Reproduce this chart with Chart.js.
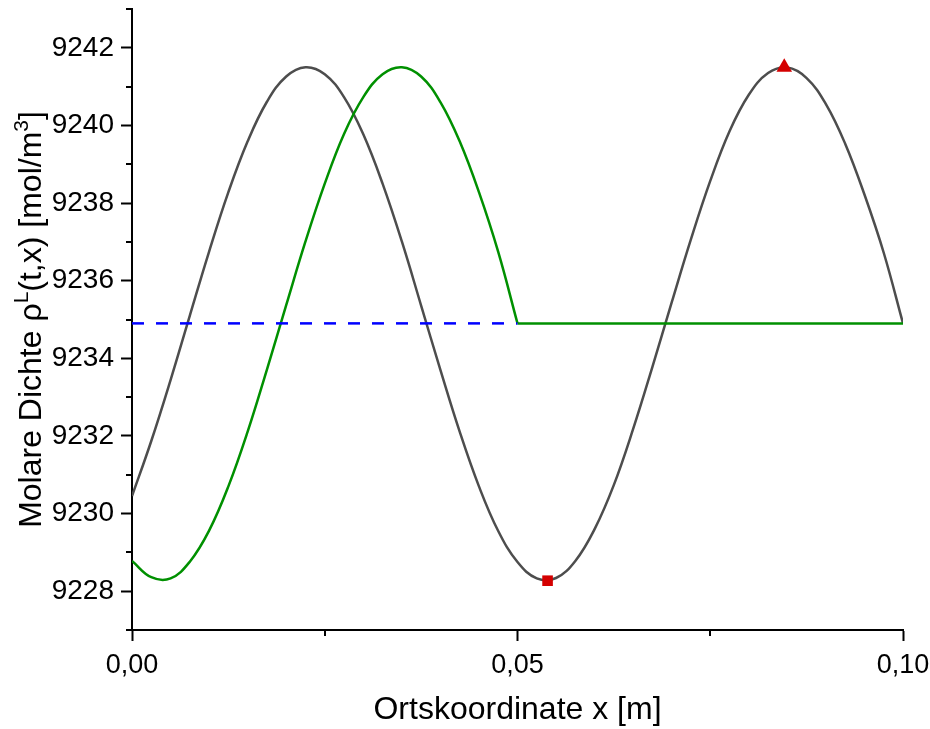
<!DOCTYPE html>
<html>
<head>
<meta charset="utf-8">
<script src="https://cdn.jsdelivr.net/npm/chart.js@4.4.1/dist/chart.umd.min.js"></script>
<style>
  body { margin: 0; background: #fff; }
  #wrap { width: 930px; height: 729px; }
</style>
</head>
<body>
<div id="wrap"><canvas id="canvas"></canvas></div>
<script>
/* daten */

const xGrau = [0, 0.0025, 0.005, 0.0075, 0.01, 0.0125, 0.015, 0.0175, 0.02, 0.0225,
    0.025, 0.0275, 0.03, 0.0325, 0.035, 0.0375, 0.04, 0.0425, 0.045, 0.0475,
    0.05, 0.0525, 0.055, 0.0575, 0.06, 0.0625, 0.065, 0.0675, 0.07, 0.0725,
    0.075, 0.0775, 0.08, 0.0825, 0.085, 0.0875, 0.09, 0.0925, 0.095, 0.0975, 0.1];
const rhoGrau = [9230.45, 9231.87, 9233.44, 9235.10, 9236.75, 9238.28, 9239.59, 9240.61, 9241.26, 9241.50,
    9241.32, 9240.73, 9239.77, 9238.50, 9237.01, 9235.36, 9233.70, 9232.11, 9230.70, 9229.55,
    9228.75, 9228.33, 9228.34, 9228.78, 9229.60, 9230.74, 9232.18, 9233.78, 9235.44, 9237.07,
    9238.57, 9239.85, 9240.79, 9241.35, 9241.49, 9241.22, 9240.55, 9239.53, 9238.22, 9236.72, 9234.90];

const xGruen = [0, 0.0025, 0.005, 0.0075, 0.01, 0.0125, 0.015, 0.0175, 0.02, 0.0225,
    0.025, 0.0275, 0.03, 0.0325, 0.035, 0.0375, 0.04, 0.0425, 0.045, 0.0475, 0.05];
const rhoGruen = [9228.78, 9228.36, 9228.33, 9228.76, 9229.56, 9230.70, 9232.11, 9233.71, 9235.37, 9237.01,
    9238.50, 9239.78, 9240.73, 9241.32, 9241.50, 9241.26, 9240.60, 9239.59, 9238.28, 9236.74, 9234.90];

const xGruenFlach = [0.05, 0.1];
const rhoGruenFlach = [9234.90, 9234.90];

const xBlau = [0, 0.05];
const rhoBlau = [9234.90, 9234.90];

const minimum = [0.0539, 9228.27];
const maximum = [0.0846, 9241.50];

const xTicks = [0, 0.05, 0.1];
const yTicks = [9228, 9230, 9232, 9234, 9236, 9238, 9240, 9242];

function punkte(xs, ys) {
    return xs.map(function(x, i) { return { x: x, y: ys[i] }; });
}

function istMajorX(v) { return xTicks.some(function(t) { return Math.abs(t - v) < 1e-6; }); }
function istMajorY(v) { return yTicks.some(function(t) { return Math.abs(t - v) < 1e-6; }); }

const schrift = "'Liberation Sans', Arial, sans-serif";

/* nebenstriche + y-titel */

const extras = {
    id: 'extras',
    afterDraw(chart) {
        const c = chart.ctx;
        const xs = chart.scales.x, ys = chart.scales.y;
        c.save();
        c.strokeStyle = '#000';
        c.lineWidth = 2;
        ys.ticks.forEach(function(t) {
            if (istMajorY(t.value)) return;
            const py = Math.round(ys.getPixelForValue(t.value));
            c.beginPath();
            c.moveTo(xs.left, py);
            c.lineTo(xs.left - 6, py);
            c.stroke();
        });
        xs.ticks.forEach(function(t) {
            if (istMajorX(t.value)) return;
            const px = Math.round(xs.getPixelForValue(t.value));
            c.beginPath();
            c.moveTo(px, ys.bottom);
            c.lineTo(px, ys.bottom + 6);
            c.stroke();
        });

        // y-titel mit hochgestellten zeichen
        const teile = [
            { t: 'Molare Dichte \u03C1', sup: false },
            { t: 'L', sup: true },
            { t: '(t,x) [mol/m', sup: false },
            { t: '3', sup: true },
            { t: ']', sup: false }
        ];
        const gr = 32, kl = 21;
        let breite = 0;
        teile.forEach(function(p) {
            c.font = (p.sup ? kl : gr) + 'px ' + schrift;
            p.w = c.measureText(p.t).width;
            breite += p.w;
        });
        c.translate(41, (ys.top + ys.bottom) / 2);
        c.rotate(-Math.PI / 2);
        c.fillStyle = '#000';
        c.textBaseline = 'alphabetic';
        c.textAlign = 'left';
        let x = -breite / 2;
        teile.forEach(function(p) {
            c.font = (p.sup ? kl : gr) + 'px ' + schrift;
            c.fillText(p.t, x, p.sup ? -13 : 0);
            x += p.w;
        });
        c.restore();
    }
};

const ctx = document.getElementById('canvas');

var chart1 = new Chart(ctx, {
    type: 'line',
    data: {
        datasets: [
            {
                data: punkte([minimum[0]], [minimum[1]]),
                showLine: false,
                pointStyle: 'rect',
                pointRadius: 7.5,
                backgroundColor: '#d40000',
                borderColor: '#d40000',
                borderWidth: 0,
                order: 0
            },
            {
                data: punkte([maximum[0]], [maximum[1]]),
                showLine: false,
                pointStyle: 'triangle',
                pointRadius: 9,
                backgroundColor: '#d40000',
                borderColor: '#d40000',
                borderWidth: 0,
                order: 0
            },
            {
                data: punkte(xBlau, rhoBlau),
                borderColor: '#0000ff',
                borderWidth: 2.5,
                borderDash: [12, 12],
                pointRadius: 0,
                order: 1
            },
            {
                data: punkte(xGruen, rhoGruen),
                borderColor: '#009000',
                borderWidth: 2.5,
                pointRadius: 0,
                tension: 0.4,
                order: 2
            },
            {
                data: punkte(xGruenFlach, rhoGruenFlach),
                borderColor: '#009000',
                borderWidth: 2.5,
                pointRadius: 0,
                order: 2
            },
            {
                data: punkte(xGrau, rhoGrau),
                borderColor: '#4d4d4d',
                borderWidth: 2.5,
                pointRadius: 0,
                tension: 0.4,
                order: 3
            }
        ]
    },
    options: {
        responsive: true,
        maintainAspectRatio: false,
        animation: false,
        layout: { padding: { top: 9, right: 27, left: 0, bottom: 0 } },
        plugins: {
            legend: { display: false },
            tooltip: { enabled: false }
        },
        scales: {
            x: {
                type: 'linear',
                min: 0,
                max: 0.1,
                afterFit: function(s) { s.height = 99; s.paddingLeft = 0; s.paddingRight = 0; },
                border: { display: true, color: '#000', width: 2 },
                grid: {
                    drawOnChartArea: false,
                    drawTicks: true,
                    tickLength: 11,
                    tickWidth: 2,
                    tickColor: function(c) { return c.tick && istMajorX(c.tick.value) ? '#000' : 'rgba(0,0,0,0)'; }
                },
                ticks: {
                    stepSize: 0.025,
                    autoSkip: false,
                    maxRotation: 0,
                    padding: 8,
                    color: '#000',
                    font: { family: schrift, size: 27 },
                    callback: function(v) { return istMajorX(v) ? v.toFixed(2).replace('.', ',') : ''; }
                },
                title: {
                    display: true,
                    text: 'Ortskoordinate x [m]',
                    color: '#000',
                    font: { family: schrift, size: 32 },
                    padding: { top: 0, bottom: 0 }
                }
            },
            y: {
                min: 9227,
                max: 9243,
                afterFit: function(s) { s.width = 132; s.paddingTop = 0; s.paddingBottom = 0; },
                border: { display: true, color: '#000', width: 2 },
                grid: {
                    drawOnChartArea: false,
                    drawTicks: true,
                    tickLength: 11,
                    tickWidth: 2,
                    tickColor: function(c) { return c.tick && istMajorY(c.tick.value) ? '#000' : 'rgba(0,0,0,0)'; }
                },
                ticks: {
                    stepSize: 1,
                    autoSkip: false,
                    padding: 7,
                    color: '#000',
                    font: { family: schrift, size: 28 },
                    callback: function(v) { return istMajorY(v) ? String(v) : ''; }
                }
            }
        }
    },
    plugins: [extras]
});
</script>
</body>
</html>
